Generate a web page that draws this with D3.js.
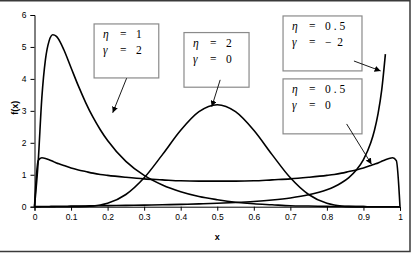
<!DOCTYPE html>
<html>
<head>
<meta charset="utf-8">
<script src="https://cdn.jsdelivr.net/npm/d3@7"></script>
<style>
  body { margin: 0; background: #fff; }
  svg { display: block; }
  .tick text { font-family: "Liberation Sans", Arial, sans-serif; font-size: 8.5px; fill: #000; }
</style>
</head>
<body>
<svg id="chart" width="415" height="254"></svg>
<script>
// x grid shared by all four curves
var xValues = [0, 0.01, 0.02, 0.03, 0.04, 0.05, 0.06, 0.07, 0.08,
               0.10, 0.12, 0.14, 0.16, 0.18,
               0.20, 0.25, 0.30, 0.35, 0.40, 0.45, 0.50, 0.55, 0.60, 0.65, 0.70, 0.75, 0.80,
               0.82, 0.84, 0.86, 0.88, 0.90,
               0.92, 0.93, 0.94, 0.95, 0.96, 0.97, 0.98, 0.99, 1];

// eta = 1, gamma = 2
var seriesEta1Gam2 = [0, 1.39, 3.40, 4.61, 5.19, 5.38, 5.33, 5.16, 4.92,
                      4.35, 3.78, 3.26, 2.80, 2.41,
                      2.07, 1.42, 0.98, 0.68, 0.47, 0.32, 0.22, 0.14, 0.09, 0.06, 0.03, 0.02, 0.01,
                      0.006, 0.004, 0.002, 0.001, 0.001,
                      0, 0, 0, 0, 0, 0, 0, 0, 0];

// eta = 2, gamma = 0
var seriesEta2Gam0 = [0, 0, 0, 0, 0, 0, 0, 0, 0,
                      0.001, 0.003, 0.009, 0.024, 0.054,
                      0.107, 0.381, 0.904, 1.630, 2.393, 2.974, 3.192, 2.974, 2.393, 1.630, 0.904, 0.381, 0.107,
                      0.054, 0.024, 0.009, 0.003, 0.001,
                      0, 0, 0, 0, 0, 0, 0, 0, 0];

// eta = 0.5, gamma = 0
var seriesEta05Gam0 = [0, 1.44, 1.53, 1.51, 1.47, 1.42, 1.37, 1.33, 1.29,
                       1.21, 1.15, 1.10, 1.05, 1.01,
                       0.98, 0.92, 0.87, 0.84, 0.81, 0.80, 0.80, 0.80, 0.81, 0.84, 0.87, 0.92, 0.98,
                       1.01, 1.05, 1.10, 1.15, 1.21,
                       1.29, 1.33, 1.37, 1.42, 1.47, 1.51, 1.53, 1.44, 0];

// eta = 0.5, gamma = -2 (leaves the chart above x = 0.96)
var seriesEta05GamM2 = [0, 0.002, 0.004, 0.006, 0.008, 0.010, 0.012, 0.014, 0.015,
                        0.018, 0.021, 0.024, 0.027, 0.030,
                        0.033, 0.041, 0.050, 0.061, 0.074, 0.089, 0.108, 0.133, 0.165, 0.210, 0.274, 0.372, 0.531,
                        0.625, 0.748, 0.912, 1.141, 1.477,
                        2.001, 2.387, 2.911, 3.654, 4.774, null, null, null, null];

var xTicks = [0, 0.1, 0.2, 0.3, 0.4, 0.5, 0.6, 0.7, 0.8, 0.9, 1];
var yTicks = [0, 1, 2, 3, 4, 5, 6];

// annotation labels: eta and gamma values (spaced like the original)
var noteEta = ["1", "2", "0\u00a0.\u00a05", "0\u00a0.\u00a05"];
var noteGamma = ["2", "0", "\u2212\u00a0\u00a02", "0"];

var serif = '"Liberation Serif", "Times New Roman", "DejaVu Serif", serif';

var svg = d3.select("#chart");

// outer chart frame
svg.append("rect")
    .attr("x", -2).attr("y", 0.75)
    .attr("width", 412).attr("height", 250.75)
    .attr("fill", "#fff")
    .attr("stroke", "#3a3a3a")
    .attr("stroke-width", 1.5);

var x = d3.scaleLinear().domain([0, 1]).range([34.5, 400]);
var y = d3.scaleLinear().domain([0, 6]).range([206.7, 15]);

// axes
svg.append("g")
    .attr("transform", "translate(0," + y(0) + ")")
    .call(d3.axisBottom(x).tickValues(xTicks).tickSize(4).tickPadding(3)
        .tickFormat(function(d) { return d === 0 || d === 1 ? d3.format("d")(d) : d3.format(".1f")(d); }))
    .call(function(g) { g.select(".domain").attr("stroke", "#000"); g.selectAll("line").attr("stroke", "#000"); });

svg.append("g")
    .attr("transform", "translate(" + x(0) + ",0)")
    .call(d3.axisLeft(y).tickValues(yTicks).tickSize(4).tickPadding(4).tickFormat(d3.format("d")))
    .call(function(g) { g.select(".domain").attr("stroke", "#000"); g.selectAll("line").attr("stroke", "#000"); });

// axis titles
svg.append("text")
    .attr("x", x(0.5)).attr("y", 240)
    .attr("text-anchor", "middle")
    .style("font-family", "Liberation Sans, Arial, sans-serif")
    .style("font-size", "9px").style("font-weight", "bold")
    .text("x");

svg.append("text")
    .attr("transform", "translate(18," + y(3.1) + ") rotate(-90)")
    .attr("text-anchor", "middle")
    .style("font-family", "Liberation Sans, Arial, sans-serif")
    .style("font-size", "9px").style("font-weight", "bold")
    .text("f(x)");

// curves
var line = d3.line()
    .defined(function(d) { return d[1] !== null; })
    .x(function(d) { return x(d[0]); })
    .y(function(d) { return y(d[1]); })
    .curve(d3.curveMonotoneX);

[seriesEta1Gam2, seriesEta2Gam0, seriesEta05Gam0, seriesEta05GamM2].forEach(function(s) {
    svg.append("path")
        .datum(xValues.map(function(v, i) { return [v, s[i]]; }))
        .attr("d", line)
        .attr("fill", "none")
        .attr("stroke", "#000")
        .attr("stroke-width", 1.6);
});

// arrowhead
svg.append("defs").append("marker")
    .attr("id", "arrow")
    .attr("viewBox", "0 0 10 10")
    .attr("refX", 10).attr("refY", 5)
    .attr("markerWidth", 6).attr("markerHeight", 6)
    .attr("markerUnits", "userSpaceOnUse")
    .attr("orient", "auto")
    .append("path")
    .attr("d", "M0,0 L10,5 L0,10 z")
    .attr("fill", "#000");

// annotation boxes (data coordinates) and their arrows
var boxes = [
    { x0: 0.163, x1: 0.340, y0: 5.72, y1: 4.03, from: [0.252, 4.02], to: [0.214, 2.94] },
    { x0: 0.409, x1: 0.587, y0: 5.45, y1: 3.74, from: [0.508, 3.97], to: [0.485, 3.13] },
    { x0: 0.680, x1: 0.896, y0: 5.97, y1: 4.25, from: [0.874, 4.56], to: [0.947, 4.25] },
    { x0: 0.680, x1: 0.896, y0: 4.00, y1: 2.28, from: [0.854, 2.59], to: [0.922, 1.33] }
];

boxes.forEach(function(b, i) {
    var left = x(b.x0), top = y(b.y0);
    svg.append("rect")
        .attr("x", left).attr("y", top)
        .attr("width", x(b.x1) - left).attr("height", y(b.y1) - top)
        .attr("fill", "#fff")
        .attr("stroke", "#8a8a8a")
        .attr("stroke-width", 1.2);

    var rows = [["\u03b7", noteEta[i]], ["\u03b3", noteGamma[i]]];
    rows.forEach(function(r, j) {
        var base = top + 14 + j * 16;
        var cells = [[left + 9, r[0], "italic"], [left + 26, "=", "normal"], [left + 42, r[1], "normal"]];
        cells.forEach(function(c) {
            svg.append("text")
                .attr("x", c[0]).attr("y", base)
                .style("font-family", serif)
                .style("font-size", "11.5px")
                .style("font-style", c[2])
                .attr("fill", "#000")
                .text(c[1]);
        });
    });

    svg.append("line")
        .attr("x1", x(b.from[0])).attr("y1", y(b.from[1]))
        .attr("x2", x(b.to[0])).attr("y2", y(b.to[1]))
        .attr("stroke", "#000")
        .attr("stroke-width", 0.9)
        .attr("marker-end", "url(#arrow)");
});
</script>
</body>
</html>
